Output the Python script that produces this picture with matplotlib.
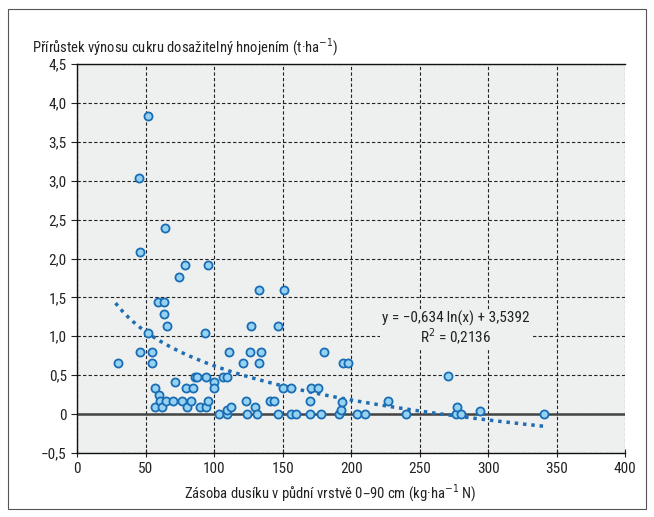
import numpy as np
import matplotlib
matplotlib.use("Agg")
import matplotlib.pyplot as plt
from matplotlib.ticker import FuncFormatter
from matplotlib.patches import Rectangle

plt.rcParams['font.family'] = ['Liberation Sans Narrow', 'Roboto Condensed', 'DejaVu Sans']
plt.rcParams['font.stretch'] = 'condensed'

# nitrogen stock (kg/ha N) vs. sugar yield increase (t/ha)
nitrogen = [29.7, 44.8, 45.7, 46.0,
            51.6, 51.9, 54.5, 54.5, 57.0, 57.0, 58.7, 59.5, 60.6, 61.8, 63.5, 63.5,
            64.2, 65.0, 65.7, 69.8, 71.6, 74.0, 76.4, 78.8, 79.3,
            80.2, 82.8, 84.2, 86.0, 87.8, 89.5, 93.3, 94.3, 94.3, 95.8, 95.8, 99.6, 99.6,
            103.5, 106.4, 109.3, 109.6, 109.6, 110.5, 112.0, 121.0, 123.4, 124.0, 125.8,
            127.0, 129.5, 131.0, 132.6, 133.0, 134.0, 140.8, 143.3, 146.4, 146.4, 150.0, 151.0,
            155.7, 156.4, 159.5, 169.7, 169.7, 171.0, 175.5, 178.0, 180.0, 190.8, 192.7,
            193.2, 193.7, 198.0, 204.2, 210.0, 226.7,
            240.2, 270.8, 276.4, 277.0, 280.0, 293.8, 340.8]
increase = [0.65, 3.04, 2.08, 0.80,
            3.83, 1.04, 0.80, 0.65, 0.33, 0.09, 1.44, 0.24, 0.17, 0.09, 1.44, 1.28,
            2.39, 0.17, 1.13, 0.17, 0.41, 1.76, 0.17, 1.92, 0.33,
            0.09, 0.17, 0.33, 0.48, 0.48, 0.09, 1.04, 0.48, 0.09, 1.92, 0.17, 0.41, 0.33,
            0.0, 0.48, 0.48, 0.0, 0.05, 0.80, 0.09, 0.65, 0.17, 0.0, 0.80,
            1.13, 0.09, 0.0, 0.65, 1.59, 0.80, 0.17, 0.17, 1.13, 0.0, 0.33, 1.59,
            0.33, 0.0, 0.0, 0.17, 0.0, 0.33, 0.33, 0.0, 0.80, 0.0, 0.05,
            0.16, 0.65, 0.65, 0.0, 0.0, 0.17,
            0.0, 0.49, 0.0, 0.09, 0.0, 0.04, 0.0]

# logarithmic trend from the chart
trend_a = -0.634
trend_b = 3.5392
trend_range = (28, 340)

x_ticks = [0, 50, 100, 150, 200, 250, 300, 350, 400]
y_ticks = [-0.5, 0, 0.5, 1.0, 1.5, 2.0, 2.5, 3.0, 3.5, 4.0, 4.5]

fig = plt.figure(figsize=(6.54, 5.17), dpi=100)
ax = fig.add_axes([0.118, 0.124, 0.838, 0.752])
ax.set_facecolor('#eeefef')

fig.patches.append(Rectangle((8 / 654, 8 / 517), 638 / 654, 500 / 517,
                             transform=fig.transFigure, fill=False,
                             edgecolor='#555555', linewidth=0.8))

ax.set_xlim(0, 400)
ax.set_ylim(-0.5, 4.5)
ax.set_xticks(x_ticks)
ax.set_yticks(y_ticks)

def comma(v, pos):
    if abs(v) < 1e-9:
        return '0'
    return f'{v:.1f}'.replace('.', ',').replace('-', '\u2212')

ax.yaxis.set_major_formatter(FuncFormatter(comma))
ax.xaxis.set_major_formatter(FuncFormatter(lambda v, p: f'{int(v)}'))
ax.tick_params(axis='both', labelsize=11, colors='#222222', length=4, width=0.8)
ax.tick_params(axis='x', direction='inout', length=6)

ax.grid(True, linestyle=(0, (3, 2)), color='#222222', linewidth=0.8)
ax.set_axisbelow(True)
ax.axhline(0, color='#444444', linewidth=1.8, zorder=1)

for s in ['left', 'bottom', 'top']:
    ax.spines[s].set_color('#111111')
    ax.spines[s].set_linewidth(1.0)
ax.spines['right'].set_visible(False)

xt = np.linspace(trend_range[0], trend_range[1], 200)
ax.plot(xt, trend_a * np.log(xt) + trend_b, linestyle=(0, (1, 1.4)),
        color='#1f6db3', linewidth=2.5, zorder=2)

ax.scatter(nitrogen, increase, s=34, facecolor='#96d3f2', edgecolor='#1a6db4',
           linewidth=1.3, zorder=3)

ax.text(276, 1.09, 'y = \u22120,634\u2009ln(x) + 3,5392\nR$^2$ = 0,2136',
        ha='center', va='center', fontsize=11, color='#222222', linespacing=1.05,
        bbox=dict(facecolor='#eeefef', edgecolor='none', pad=1), zorder=4)

fig.text(32 / 654, 1 - 47 / 517,
         'Přírůstek výnosu cukru dosažitelný hnojením (t\u00b7ha$^{-1}$)',
         ha='left', va='center', fontsize=10.5, color='#222222')
fig.text(0.505, 1 - 493 / 517,
         'Zásoba dusíku v půdní vrstvě 0\u201390 cm (kg\u00b7ha$^{-1}$ N)',
         ha='center', va='center', fontsize=10.5, color='#222222')

fig.savefig('out.png', dpi=100)
